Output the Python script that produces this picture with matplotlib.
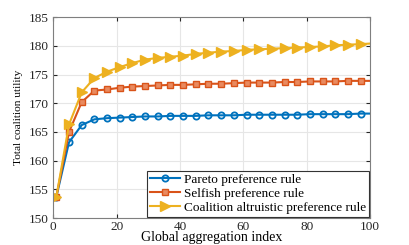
import numpy as np
import matplotlib.pyplot as plt

plt.rcParams['font.family'] = ['Liberation Serif', 'DejaVu Serif']
plt.rcParams['mathtext.fontset'] = 'stix'

x_idx = [1, 5, 9, 13, 17, 21, 25, 29, 33, 37, 41, 45, 49, 53, 57, 61, 65, 69, 73, 77, 81, 85, 89, 93, 97, 100]
pareto = [153.7, 163.2, 166.2, 167.2, 167.4, 167.5, 167.6, 167.7, 167.7, 167.8, 167.8, 167.8, 167.9, 167.9,
          167.9, 168.0, 168.0, 168.0, 168.0, 168.0, 168.1, 168.1, 168.1, 168.1, 168.2, 168.2]
selfish = [153.7, 165.0, 170.2, 172.2, 172.4, 172.7, 172.9, 173.0, 173.1, 173.2, 173.2, 173.3, 173.4, 173.4,
           173.5, 173.6, 173.6, 173.6, 173.7, 173.7, 173.8, 173.8, 173.8, 173.9, 173.9, 173.9]
altruistic = [153.7, 166.3, 171.9, 174.4, 175.5, 176.3, 177.0, 177.6, 177.9, 178.1, 178.3, 178.6, 178.8, 179.0,
              179.1, 179.3, 179.4, 179.5, 179.6, 179.7, 179.8, 179.9, 180.1, 180.2, 180.3, 180.4]

fig, ax = plt.subplots(figsize=(4.09, 2.45), dpi=100)
fig.subplots_adjust(left=0.13, right=0.905, top=0.93, bottom=0.11)

marks = list(range(len(x_idx) - 1))
ax.plot(x_idx, pareto, color='#0072BD', marker='o', markersize=4.5, markerfacecolor='none',
        markeredgewidth=1.3, lw=1.5, markevery=marks, label='Pareto preference rule')
ax.plot(x_idx, selfish, color='#D95319', marker='s', markersize=4.5, markerfacecolor='#E98A5F',
        markeredgewidth=1.0, lw=1.5, markevery=marks, label='Selfish preference rule')
ax.plot(x_idx, altruistic, color='#EDB120', marker='>', markersize=7, lw=1.5, markevery=marks,
        label='Coalition altruistic preference rule')

ax.set_xlim(0, 100)
ax.set_ylim(150, 185)
ax.set_xticks([0, 20, 40, 60, 80, 100])
ax.set_yticks([150, 155, 160, 165, 170, 175, 180, 185])
ax.tick_params(direction='in', top=True, right=True, labelsize=9.5, length=3, colors='#262626', pad=3)
ax.tick_params(axis='x', pad=2)
ax.grid(True, color='#e6e6e6', lw=0.8)
ax.set_axisbelow(True)
for s in ax.spines.values():
    s.set_color('#7f7f7f')
    s.set_linewidth(0.8)

ax.set_xlabel('Global aggregation index', fontsize=10, labelpad=-1)
ax.set_ylabel('Total coalition utility', fontsize=8.2, labelpad=4)
leg = ax.legend(loc='lower right', fontsize=9.5, borderaxespad=0.1, handlelength=2.3,
                handletextpad=0.3, borderpad=0.2, labelspacing=0.15, fancybox=False, framealpha=1)
leg.get_frame().set_edgecolor('#333333')
leg.get_frame().set_linewidth(0.8)

plt.savefig('out.png', dpi=100)
